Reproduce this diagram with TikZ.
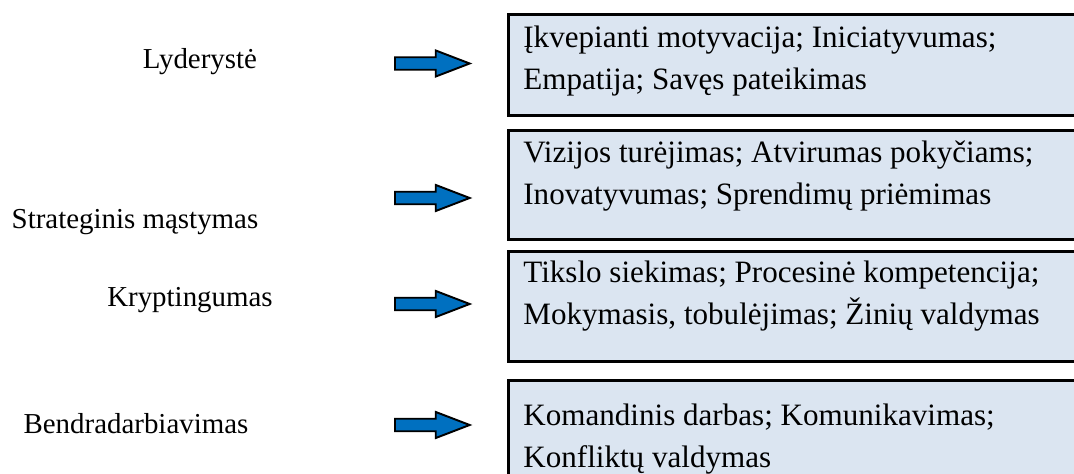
\documentclass[tikz,border=0pt]{standalone}
\usepackage{fontspec}
\setmainfont{Liberation Serif}
\usetikzlibrary{shapes.arrows}
\definecolor{rodyklemelyna}{HTML}{0070C0}
\definecolor{laukomelyna}{HTML}{DBE5F1}
\newcommand{\savybes}[3]{\parbox[c][#1][t]{230pt}{\fontsize{12.9}{17.4}\selectfont\vspace*{#2}\strut #3}}

\begin{document}
\begin{tikzpicture}[
	x=0.415pt, y=-0.415pt,
	font=\fontsize{12}{17.4}\selectfont,
	kompetencija/.style = {inner sep=0pt},
	rodykle/.style = {single arrow, draw=black, fill=rodyklemelyna,
		line width=0.8pt, inner xsep=0pt, inner ysep=2.2pt,
		minimum height=31pt, minimum width=10pt,
		single arrow head extend=2.8pt, single arrow tip angle=42,
		anchor=west},
	savybe/.style = {draw=black, fill=laukomelyna, line width=1.2pt,
		inner xsep=6.2pt, inner ysep=0pt, anchor=north west}
	]
	\useasboundingbox (0,0) rectangle (1074,474);
	
	\node [kompetencija] (lyderyste) at (200,62) {Lyderystė};
	\node [kompetencija] (strategija) at (135,222) {Strateginis mąstymas};
	\node [kompetencija] (kryptingumas) at (190,300) {Kryptingumas};
	\node [kompetencija] (bendradarbiavimas) at (136,424) {Bendradarbiavimas};
	
	\node [rodykle] (r1) at (394,63.5) {};
	\node [rodykle] (r2) at (394,198) {};
	\node [rodykle] (r3) at (394,304) {};
	\node [rodykle] (r4) at (394,425) {};
	
	\node [savybe] (s1) at (507,13) {\savybes{41.9pt}{1.7pt}{Įkvepianti motyvacija; Iniciatyvumas;\\ Empatija; Savęs pateikimas}};
	\node [savybe] (s2) at (507,129) {\savybes{45.2pt}{1.3pt}{Vizijos turėjimas; Atvirumas pokyčiams;\\ Inovatyvumas; Sprendimų priėmimas}};
	\node [savybe] (s3) at (507,250) {\savybes{45.6pt}{0.9pt}{Tikslo siekimas; Procesinė kompetencija;\\ Mokymasis, tobulėjimas; Žinių valdymas}};
	\node [savybe] (s4) at (507,379) {\savybes{49.8pt}{6.7pt}{Komandinis darbas; Komunikavimas;\\ Konfliktų valdymas}};
\end{tikzpicture}
\end{document}
